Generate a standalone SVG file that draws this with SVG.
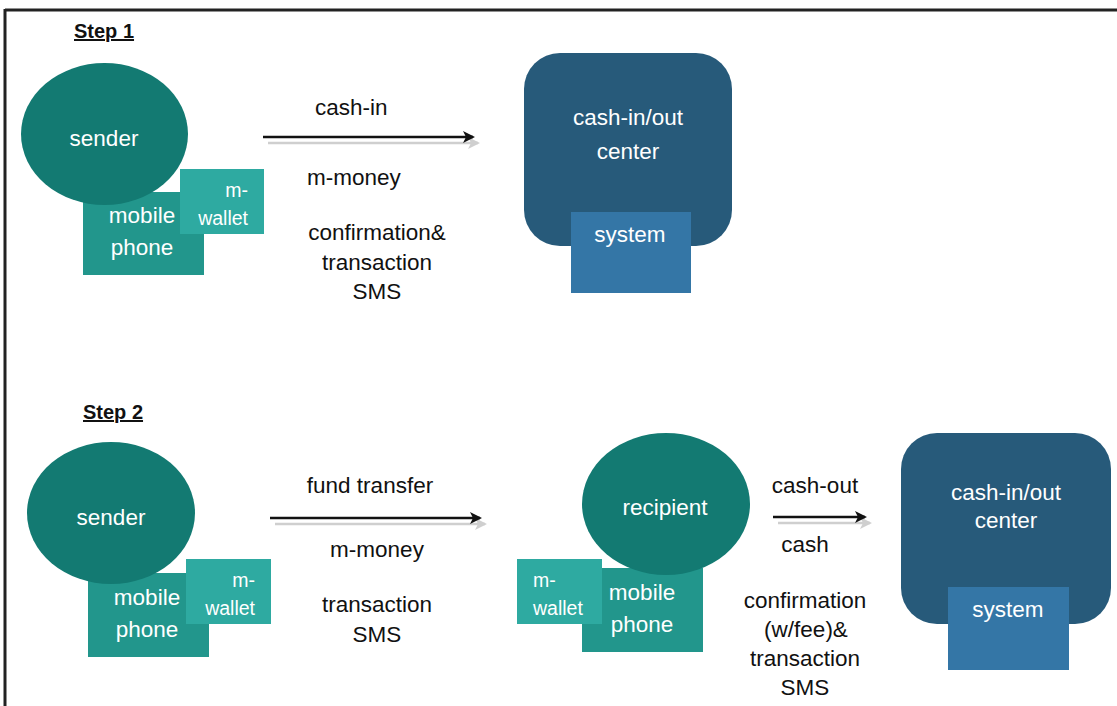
<svg xmlns="http://www.w3.org/2000/svg" width="1117" height="706" viewBox="0 0 1117 706">
<defs>
<style>
text{font-family:"Liberation Sans",Arial,sans-serif;font-size:22.5px;}
.w{fill:#ffffff;}
.k{fill:#111111;}
.step{font-weight:bold;font-size:20px;text-decoration:underline;fill:#111;}
.sm{font-size:19.5px;}
.ell{fill:#137a72;}
.phone{fill:#22968c;}
.wal{fill:#2eaaa1;}
.ctr{fill:#275a7a;}
.sys{fill:#3476a6;}
.ln{stroke:#111;stroke-width:2.5;fill:none;}
.sh{stroke:#cfcfcf;stroke-width:2.5;fill:none;}
</style>
<marker id="ah" viewBox="0 0 12 12" refX="10" refY="6" markerWidth="12" markerHeight="12" markerUnits="userSpaceOnUse" orient="auto"><path d="M0,0 L12,6 L0,12 L3,6 Z" fill="#111"/></marker>
<marker id="ahs" viewBox="0 0 12 12" refX="10" refY="6" markerWidth="12" markerHeight="12" markerUnits="userSpaceOnUse" orient="auto"><path d="M0,0 L12,6 L0,12 L3,6 Z" fill="#cfcfcf"/></marker>
</defs>
<rect width="1117" height="706" fill="#ffffff"/>
<g id="frame">
<line x1="5" y1="10" x2="1117" y2="10" stroke="#222" stroke-width="3"/>
<line x1="5" y1="9" x2="5" y2="706" stroke="#222" stroke-width="3"/>
</g>
<text class="step" x="74" y="38">Step 1</text>
<text class="step" x="83" y="419">Step 2</text>

<g id="connectors">
<line class="sh" x1="268" y1="143" x2="478" y2="143" marker-end="url(#ahs)"/>
<line class="ln" x1="263" y1="137" x2="473" y2="137" marker-end="url(#ah)"/>
<line class="sh" x1="275" y1="524" x2="485" y2="524" marker-end="url(#ahs)"/>
<line class="ln" x1="270" y1="518" x2="480" y2="518" marker-end="url(#ah)"/>
<line class="sh" x1="778" y1="523" x2="870" y2="523" marker-end="url(#ahs)"/>
<line class="ln" x1="773" y1="517" x2="865" y2="517" marker-end="url(#ah)"/>
</g>

<g id="labels1">
<text class="k" x="315" y="115">cash-in</text>
<text class="k" x="307" y="185">m-money</text>
<text class="k" x="377" y="240" text-anchor="middle">confirmation&amp;</text>
<text class="k" x="377" y="270" text-anchor="middle">transaction</text>
<text class="k" x="377" y="299" text-anchor="middle">SMS</text>
</g>
<g id="labels2">
<text class="k" x="370" y="493" text-anchor="middle">fund transfer</text>
<text class="k" x="377" y="557" text-anchor="middle">m-money</text>
<text class="k" x="377" y="612" text-anchor="middle">transaction</text>
<text class="k" x="377" y="642" text-anchor="middle">SMS</text>
</g>
<g id="labels3">
<text class="k" x="815" y="493" text-anchor="middle">cash-out</text>
<text class="k" x="805" y="552" text-anchor="middle">cash</text>
<text class="k" x="805" y="608" text-anchor="middle">confirmation</text>
<text class="k" x="806" y="637" text-anchor="middle">(w/fee)&amp;</text>
<text class="k" x="805" y="666" text-anchor="middle">transaction</text>
<text class="k" x="805" y="695" text-anchor="middle">SMS</text>
</g>

<g id="sender1">
<rect class="phone" x="83" y="192" width="121" height="83"/>
<ellipse class="ell" cx="104.5" cy="134" rx="83.5" ry="71"/>
<text class="w" x="104" y="146" text-anchor="middle">sender</text>
<text class="w" x="142" y="223" text-anchor="middle">mobile</text>
<text class="w" x="142" y="255" text-anchor="middle">phone</text>
</g>
<g id="wallet1">
<rect class="wal" x="180" y="169" width="84" height="65"/>
<text class="w sm" x="248" y="197" text-anchor="end">m-</text>
<text class="w sm" x="248" y="225" text-anchor="end">wallet</text>
</g>
<g id="center1">
<rect class="ctr" x="524" y="53" width="208" height="193" rx="36" ry="36"/>
<text class="w" x="628" y="125" text-anchor="middle">cash-in/out</text>
<text class="w" x="628" y="159" text-anchor="middle">center</text>
</g>
<g id="system1">
<rect class="sys" x="571" y="212" width="120" height="81"/>
<text class="w" x="630" y="242" text-anchor="middle">system</text>
</g>

<g id="sender2">
<rect class="phone" x="88" y="573" width="121" height="84"/>
<ellipse class="ell" cx="111" cy="513" rx="84" ry="71"/>
<text class="w" x="111" y="525" text-anchor="middle">sender</text>
<text class="w" x="147" y="605" text-anchor="middle">mobile</text>
<text class="w" x="147" y="637" text-anchor="middle">phone</text>
</g>
<g id="wallet2">
<rect class="wal" x="186" y="559" width="85" height="65"/>
<text class="w sm" x="255" y="587" text-anchor="end">m-</text>
<text class="w sm" x="255" y="615" text-anchor="end">wallet</text>
</g>

<g id="recipient">
<rect class="phone" x="582" y="568" width="121" height="84"/>
<ellipse class="ell" cx="666" cy="504" rx="84" ry="71"/>
<text class="w" x="665" y="515" text-anchor="middle">recipient</text>
<text class="w" x="642" y="600" text-anchor="middle">mobile</text>
<text class="w" x="642" y="632" text-anchor="middle">phone</text>
</g>
<g id="wallet3">
<rect class="wal" x="517" y="559" width="85" height="65"/>
<text class="w sm" x="533" y="587">m-</text>
<text class="w sm" x="533" y="615">wallet</text>
</g>
<g id="center2">
<rect class="ctr" x="901" y="433" width="210" height="191" rx="36" ry="36"/>
<text class="w" x="1006" y="500" text-anchor="middle">cash-in/out</text>
<text class="w" x="1006" y="528" text-anchor="middle">center</text>
</g>
<g id="system2">
<rect class="sys" x="948" y="587" width="121" height="83"/>
<text class="w" x="1008" y="617" text-anchor="middle">system</text>
</g>
</svg>
